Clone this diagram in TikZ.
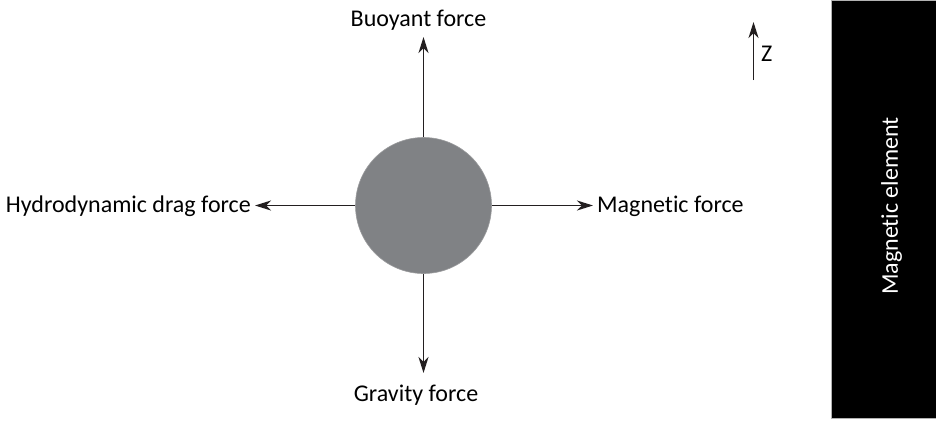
\documentclass[tikz,border=0pt]{standalone}
\usepackage{fontspec}
\setmainfont{Carlito}[Ligatures={NoCommon,NoRare}]
\usetikzlibrary{arrows.meta}
\definecolor{ballgray}{HTML}{808285}
\definecolor{ballrim}{HTML}{9A9B9D}
\definecolor{inkc}{HTML}{231F20}
\tikzset{
  force/.style={draw=inkc, line width=1.4pt, -{Stealth[length=16pt,width=10pt,inset=5pt]}},
  lbl/.style={font=\fontsize{24}{28}\selectfont, text=black, inner sep=0pt},
}
\begin{document}
\begin{tikzpicture}[x=1pt,y=-1pt]
\useasboundingbox (0,0) rectangle (936,421);
\fill[white] (0,0) rectangle (936,421);
% magnetic element
\node[draw=gray!60, line width=0.6pt, fill=black, minimum width=105pt, minimum height=418pt, inner sep=0pt, anchor=north west] (mag) at (831,0) {};
\node[lbl, text=white, rotate=90] (magt) at (891.5,206) {Magnetic element};
% ball
\node[circle, fill=ballgray, draw=ballrim, line width=0.6pt, minimum size=136pt, inner sep=0pt] (ball) at (423.5,205.5) {};
% endpoints
\coordinate (up) at (423.5,37);
\coordinate (dn) at (423.5,373);
\coordinate (lf) at (255,205.5);
\coordinate (rt) at (593,205.5);
\draw[force] (ball.north) -- (up);
\draw[force] (ball.south) -- (dn);
\draw[force] (ball.west) -- (lf);
\draw[force] (ball.east) -- (rt);
% labels
\node[lbl, anchor=center] (buoy) at (418.5,20) {Buoyant force};
\node[lbl, anchor=center] (grav) at (416,395) {Gravity force};
\node[lbl, anchor=east] (drag) at (251,206) {Hydrodynamic drag force};
\node[lbl, anchor=west] (magf) at (597,206) {Magnetic force};
% z axis
\coordinate (z0) at (753.5,80);
\coordinate (z1) at (753.5,22);
\draw[force] (z0) -- (z1);
\node[lbl, anchor=west] (zl) at (761,54) {Z};
\end{tikzpicture}
\end{document}
